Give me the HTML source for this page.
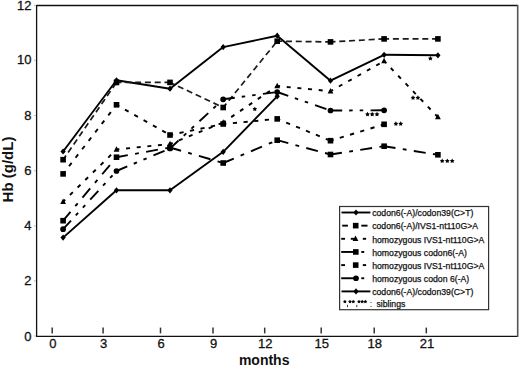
<!DOCTYPE html><html><head><meta charset="utf-8"><style>html,body{margin:0;padding:0;background:#fff;}svg{display:block;}text{font-family:"Liberation Sans",sans-serif;}</style></head><body>
<svg width="520" height="366" viewBox="0 0 520 366">
<rect width="520" height="366" fill="#fff"/>
<path d="M36.6 5.5 H518 M36.6 5 V336.5 M36 336.4 H518" stroke="#111" stroke-width="1.3" fill="none"/>
<path d="M517.7 5 V337" stroke="#555" stroke-width="1.6" fill="none"/>
<text x="31.4" y="341.4" font-size="13" text-anchor="end" fill="#111" stroke="#111" stroke-width="0.3">0</text>
<path d="M34 336.0 H35.6" stroke="#bbb" stroke-width="1.2"/>
<text x="31.4" y="284.9" font-size="13" text-anchor="end" fill="#111" stroke="#111" stroke-width="0.3">2</text>
<path d="M34 280.9 H35.6" stroke="#bbb" stroke-width="1.2"/>
<text x="31.4" y="230.0" font-size="13" text-anchor="end" fill="#111" stroke="#111" stroke-width="0.3">4</text>
<path d="M34 225.8 H35.6" stroke="#bbb" stroke-width="1.2"/>
<text x="31.4" y="175.2" font-size="13" text-anchor="end" fill="#111" stroke="#111" stroke-width="0.3">6</text>
<path d="M34 170.6 H35.6" stroke="#bbb" stroke-width="1.2"/>
<text x="31.4" y="119.7" font-size="13" text-anchor="end" fill="#111" stroke="#111" stroke-width="0.3">8</text>
<path d="M34 115.5 H35.6" stroke="#bbb" stroke-width="1.2"/>
<text x="31.4" y="64.0" font-size="13" text-anchor="end" fill="#111" stroke="#111" stroke-width="0.3">10</text>
<path d="M34 60.4 H35.6" stroke="#bbb" stroke-width="1.2"/>
<text x="31.4" y="10.1" font-size="13" text-anchor="end" fill="#111" stroke="#111" stroke-width="0.3">12</text>
<path d="M34 5.3 H35.6" stroke="#bbb" stroke-width="1.2"/>
<path d="M52.2 327.6 V333.4" stroke="#333" stroke-width="1.5"/>
<text x="52.8" y="348.2" font-size="13" text-anchor="middle" fill="#111" stroke="#111" stroke-width="0.3">0</text>
<path d="M103.1 327.6 V333.4" stroke="#333" stroke-width="1.5"/>
<text x="103.7" y="348.2" font-size="13" text-anchor="middle" fill="#111" stroke="#111" stroke-width="0.3">3</text>
<path d="M160.5 327.6 V333.4" stroke="#333" stroke-width="1.5"/>
<text x="161.1" y="348.2" font-size="13" text-anchor="middle" fill="#111" stroke="#111" stroke-width="0.3">6</text>
<path d="M213.0 327.6 V333.4" stroke="#333" stroke-width="1.5"/>
<text x="213.6" y="348.2" font-size="13" text-anchor="middle" fill="#111" stroke="#111" stroke-width="0.3">9</text>
<path d="M264.7 327.6 V333.4" stroke="#333" stroke-width="1.5"/>
<text x="265.3" y="348.2" font-size="13" text-anchor="middle" fill="#111" stroke="#111" stroke-width="0.3">12</text>
<path d="M321.2 327.6 V333.4" stroke="#333" stroke-width="1.5"/>
<text x="321.8" y="348.2" font-size="13" text-anchor="middle" fill="#111" stroke="#111" stroke-width="0.3">15</text>
<path d="M374.2 327.6 V333.4" stroke="#333" stroke-width="1.5"/>
<text x="374.8" y="348.2" font-size="13" text-anchor="middle" fill="#111" stroke="#111" stroke-width="0.3">18</text>
<path d="M426.3 327.6 V333.4" stroke="#333" stroke-width="1.5"/>
<text x="426.9" y="348.2" font-size="13" text-anchor="middle" fill="#111" stroke="#111" stroke-width="0.3">21</text>
<text x="264.2" y="365" font-size="14" font-weight="bold" text-anchor="middle" fill="#111">months</text>
<text transform="translate(13.2,169.5) rotate(-90)" font-size="15" font-weight="bold" text-anchor="middle" fill="#111">Hb (g/dL)</text>
<line x1="63.1" y1="151.5" x2="116.5" y2="80.3" stroke="#000" stroke-width="1.9"/>
<line x1="116.5" y1="80.3" x2="170.0" y2="88.7" stroke="#000" stroke-width="1.9"/>
<line x1="170.0" y1="88.7" x2="223.2" y2="47.1" stroke="#000" stroke-width="1.9"/>
<line x1="223.2" y1="47.1" x2="277.2" y2="35.7" stroke="#000" stroke-width="1.9"/>
<line x1="277.2" y1="35.7" x2="330.5" y2="80.7" stroke="#000" stroke-width="1.9"/>
<line x1="330.5" y1="80.7" x2="384.1" y2="54.8" stroke="#000" stroke-width="1.9"/>
<line x1="384.1" y1="54.8" x2="437.9" y2="55.3" stroke="#000" stroke-width="1.9"/>
<line x1="63.1" y1="159.7" x2="116.5" y2="82.5" stroke="#1a1a1a" stroke-width="1.7" stroke-dasharray="6 3.8" stroke-dashoffset="1"/>
<line x1="116.5" y1="82.5" x2="170.0" y2="82.4" stroke="#1a1a1a" stroke-width="1.7" stroke-dasharray="6 3.8" stroke-dashoffset="1"/>
<line x1="170.0" y1="82.4" x2="223.2" y2="107.5" stroke="#1a1a1a" stroke-width="1.7" stroke-dasharray="6 3.8" stroke-dashoffset="1"/>
<line x1="223.2" y1="107.5" x2="277.2" y2="41.2" stroke="#1a1a1a" stroke-width="1.7" stroke-dasharray="6 3.8" stroke-dashoffset="1"/>
<line x1="277.2" y1="41.2" x2="330.5" y2="41.9" stroke="#1a1a1a" stroke-width="1.7" stroke-dasharray="6 3.8" stroke-dashoffset="1"/>
<line x1="330.5" y1="41.9" x2="384.1" y2="38.9" stroke="#1a1a1a" stroke-width="1.7" stroke-dasharray="6 3.8" stroke-dashoffset="1"/>
<line x1="384.1" y1="38.9" x2="437.9" y2="38.9" stroke="#1a1a1a" stroke-width="1.7" stroke-dasharray="6 3.8" stroke-dashoffset="1"/>
<line x1="63.1" y1="201.7" x2="116.5" y2="149.5" stroke="#000" stroke-width="1.9" stroke-dasharray="4 6.7" stroke-dashoffset="1.1"/>
<line x1="116.5" y1="149.5" x2="170.0" y2="144.0" stroke="#000" stroke-width="1.9" stroke-dasharray="4 6.7" stroke-dashoffset="1.1"/>
<line x1="170.0" y1="144.0" x2="223.2" y2="122.5" stroke="#000" stroke-width="1.9" stroke-dasharray="4 6.7" stroke-dashoffset="1.1"/>
<line x1="223.2" y1="122.5" x2="277.2" y2="86.0" stroke="#000" stroke-width="1.9" stroke-dasharray="4 6.7" stroke-dashoffset="1.1"/>
<line x1="277.2" y1="86.0" x2="330.5" y2="91.2" stroke="#000" stroke-width="1.9" stroke-dasharray="4 6.7" stroke-dashoffset="1.1"/>
<line x1="330.5" y1="91.2" x2="384.1" y2="61.1" stroke="#000" stroke-width="1.9" stroke-dasharray="4 6.7" stroke-dashoffset="1.1"/>
<line x1="384.1" y1="61.1" x2="437.9" y2="117.1" stroke="#000" stroke-width="1.9" stroke-dasharray="4 6.7" stroke-dashoffset="1.1"/>
<line x1="63.1" y1="220.7" x2="116.5" y2="157.2" stroke="#000" stroke-width="1.9" stroke-dasharray="12 7.4 3.8 7.4" stroke-dashoffset="0.5"/>
<line x1="116.5" y1="157.2" x2="170.0" y2="147.5" stroke="#000" stroke-width="1.9" stroke-dasharray="12 7.4 3.8 7.4" stroke-dashoffset="0.5"/>
<line x1="170.0" y1="147.5" x2="223.2" y2="163.0" stroke="#000" stroke-width="1.9" stroke-dasharray="12 7.4 3.8 7.4" stroke-dashoffset="0.5"/>
<line x1="223.2" y1="163.0" x2="277.2" y2="140.2" stroke="#000" stroke-width="1.9" stroke-dasharray="12 7.4 3.8 7.4" stroke-dashoffset="0.5"/>
<line x1="277.2" y1="140.2" x2="330.5" y2="154.5" stroke="#000" stroke-width="1.9" stroke-dasharray="12 7.4 3.8 7.4" stroke-dashoffset="0.5"/>
<line x1="330.5" y1="154.5" x2="384.1" y2="146.2" stroke="#000" stroke-width="1.9" stroke-dasharray="12 7.4 3.8 7.4" stroke-dashoffset="0.5"/>
<line x1="384.1" y1="146.2" x2="437.9" y2="154.8" stroke="#000" stroke-width="1.9" stroke-dasharray="12 7.4 3.8 7.4" stroke-dashoffset="0.5"/>
<line x1="63.1" y1="173.9" x2="116.5" y2="104.8" stroke="#000" stroke-width="1.9" stroke-dasharray="4.2 6.5" stroke-dashoffset="1.0"/>
<line x1="116.5" y1="104.8" x2="170.0" y2="135.0" stroke="#000" stroke-width="1.9" stroke-dasharray="4.2 6.5" stroke-dashoffset="1.0"/>
<line x1="170.0" y1="135.0" x2="223.2" y2="124.0" stroke="#000" stroke-width="1.9" stroke-dasharray="4.2 6.5" stroke-dashoffset="1.0"/>
<line x1="223.2" y1="124.0" x2="277.2" y2="118.9" stroke="#000" stroke-width="1.9" stroke-dasharray="4.2 6.5" stroke-dashoffset="1.0"/>
<line x1="277.2" y1="118.9" x2="330.5" y2="140.7" stroke="#000" stroke-width="1.9" stroke-dasharray="4.2 6.5" stroke-dashoffset="1.0"/>
<line x1="330.5" y1="140.7" x2="384.1" y2="124.3" stroke="#000" stroke-width="1.9" stroke-dasharray="4.2 6.5" stroke-dashoffset="1.0"/>
<line x1="63.1" y1="229.2" x2="116.5" y2="171.0" stroke="#000" stroke-width="1.9" stroke-dasharray="12 7 3.5 7 3.5 7.4" stroke-dashoffset="0.3"/>
<line x1="116.5" y1="171.0" x2="170.0" y2="148.5" stroke="#000" stroke-width="1.9" stroke-dasharray="12 7 3.5 7 3.5 7.4" stroke-dashoffset="0.3"/>
<line x1="170.0" y1="148.5" x2="223.2" y2="99.3" stroke="#000" stroke-width="1.9" stroke-dasharray="12 7 3.5 7 3.5 7.4" stroke-dashoffset="0.3"/>
<line x1="223.2" y1="99.3" x2="277.2" y2="92.0" stroke="#000" stroke-width="1.9" stroke-dasharray="12 7 3.5 7 3.5 7.4" stroke-dashoffset="0.3"/>
<line x1="277.2" y1="92.0" x2="330.5" y2="110.5" stroke="#000" stroke-width="1.9" stroke-dasharray="12 7 3.5 7 3.5 7.4" stroke-dashoffset="0.3"/>
<line x1="330.5" y1="110.5" x2="384.1" y2="110.3" stroke="#000" stroke-width="1.9" stroke-dasharray="12 7 3.5 7 3.5 7.4" stroke-dashoffset="0.3"/>
<line x1="63.1" y1="237.6" x2="116.5" y2="190.3" stroke="#000" stroke-width="1.9"/>
<line x1="116.5" y1="190.3" x2="170.0" y2="190.3" stroke="#000" stroke-width="1.9"/>
<line x1="170.0" y1="190.3" x2="223.2" y2="151.8" stroke="#000" stroke-width="1.9"/>
<line x1="223.2" y1="151.8" x2="277.2" y2="96.3" stroke="#000" stroke-width="1.9"/>
<polygon points="63.10,234.50 65.73,237.60 63.10,240.70 60.47,237.60" fill="#000"/>
<polygon points="116.50,187.20 119.14,190.30 116.50,193.40 113.86,190.30" fill="#000"/>
<polygon points="170.00,187.20 172.63,190.30 170.00,193.40 167.37,190.30" fill="#000"/>
<polygon points="223.20,148.70 225.83,151.80 223.20,154.90 220.56,151.80" fill="#000"/>
<polygon points="277.20,93.20 279.83,96.30 277.20,99.40 274.56,96.30" fill="#000"/>
<circle cx="63.10" cy="229.20" r="2.85" fill="#000"/>
<circle cx="116.50" cy="171.00" r="2.85" fill="#000"/>
<circle cx="170.00" cy="148.50" r="2.85" fill="#000"/>
<circle cx="223.20" cy="99.30" r="2.85" fill="#000"/>
<circle cx="277.20" cy="92.00" r="2.85" fill="#000"/>
<circle cx="330.50" cy="110.50" r="2.85" fill="#000"/>
<circle cx="384.10" cy="110.30" r="2.85" fill="#000"/>
<rect x="60.30" y="217.90" width="5.60" height="5.60" fill="#000"/>
<rect x="113.70" y="154.40" width="5.60" height="5.60" fill="#000"/>
<rect x="167.20" y="144.70" width="5.60" height="5.60" fill="#000"/>
<rect x="220.40" y="160.20" width="5.60" height="5.60" fill="#000"/>
<rect x="274.40" y="137.40" width="5.60" height="5.60" fill="#000"/>
<rect x="327.70" y="151.70" width="5.60" height="5.60" fill="#000"/>
<rect x="381.30" y="143.40" width="5.60" height="5.60" fill="#000"/>
<rect x="435.10" y="152.00" width="5.60" height="5.60" fill="#000"/>
<rect x="60.30" y="171.10" width="5.60" height="5.60" fill="#000"/>
<rect x="113.70" y="102.00" width="5.60" height="5.60" fill="#000"/>
<rect x="167.20" y="132.20" width="5.60" height="5.60" fill="#000"/>
<rect x="220.40" y="121.20" width="5.60" height="5.60" fill="#000"/>
<rect x="274.40" y="116.10" width="5.60" height="5.60" fill="#000"/>
<rect x="327.70" y="137.90" width="5.60" height="5.60" fill="#000"/>
<rect x="381.30" y="121.50" width="5.60" height="5.60" fill="#000"/>
<rect x="60.30" y="156.90" width="5.60" height="5.60" fill="#000"/>
<rect x="113.70" y="79.70" width="5.60" height="5.60" fill="#000"/>
<rect x="167.20" y="79.60" width="5.60" height="5.60" fill="#000"/>
<rect x="220.40" y="104.70" width="5.60" height="5.60" fill="#000"/>
<rect x="274.40" y="38.40" width="5.60" height="5.60" fill="#000"/>
<rect x="327.70" y="39.10" width="5.60" height="5.60" fill="#000"/>
<rect x="381.30" y="36.10" width="5.60" height="5.60" fill="#000"/>
<rect x="435.10" y="36.10" width="5.60" height="5.60" fill="#000"/>
<polygon points="63.10,148.40 65.73,151.50 63.10,154.60 60.47,151.50" fill="#000"/>
<polygon points="116.50,77.20 119.14,80.30 116.50,83.40 113.86,80.30" fill="#000"/>
<polygon points="170.00,85.60 172.63,88.70 170.00,91.80 167.37,88.70" fill="#000"/>
<polygon points="223.20,44.00 225.83,47.10 223.20,50.20 220.56,47.10" fill="#000"/>
<polygon points="277.20,32.60 279.83,35.70 277.20,38.80 274.56,35.70" fill="#000"/>
<polygon points="330.50,77.60 333.13,80.70 330.50,83.80 327.87,80.70" fill="#000"/>
<polygon points="384.10,51.70 386.74,54.80 384.10,57.90 381.47,54.80" fill="#000"/>
<polygon points="437.90,52.20 440.53,55.30 437.90,58.40 435.26,55.30" fill="#000"/>
<polygon points="63.10,198.40 66.00,203.88 60.20,203.88" fill="#000"/>
<polygon points="116.50,146.20 119.40,151.68 113.60,151.68" fill="#000"/>
<polygon points="170.00,140.70 172.90,146.18 167.10,146.18" fill="#000"/>
<polygon points="223.20,119.20 226.10,124.67 220.30,124.67" fill="#000"/>
<polygon points="277.20,82.70 280.10,88.17 274.30,88.17" fill="#000"/>
<polygon points="330.50,87.90 333.40,93.38 327.60,93.38" fill="#000"/>
<polygon points="384.10,57.80 387.00,63.27 381.20,63.27" fill="#000"/>
<polygon points="437.90,113.80 440.80,119.27 435.00,119.27" fill="#000"/>
<polygon points="254.80,106.65 255.59,108.01 257.13,108.34 256.08,109.52 256.24,111.08 254.80,110.45 253.36,111.08 253.52,109.52 252.47,108.34 254.01,108.01" fill="#000"/>
<polygon points="430.40,56.05 431.19,57.41 432.73,57.74 431.68,58.92 431.84,60.48 430.40,59.85 428.96,60.48 429.12,58.92 428.07,57.74 429.61,57.41" fill="#000"/>
<polygon points="413.00,95.35 413.79,96.71 415.33,97.04 414.28,98.22 414.44,99.78 413.00,99.15 411.56,99.78 411.72,98.22 410.67,97.04 412.21,96.71" fill="#000"/>
<polygon points="417.90,95.35 418.69,96.71 420.23,97.04 419.18,98.22 419.34,99.78 417.90,99.15 416.46,99.78 416.62,98.22 415.57,97.04 417.11,96.71" fill="#000"/>
<polygon points="367.50,111.85 368.29,113.21 369.83,113.54 368.78,114.72 368.94,116.28 367.50,115.65 366.06,116.28 366.22,114.72 365.17,113.54 366.71,113.21" fill="#000"/>
<polygon points="372.20,111.85 372.99,113.21 374.53,113.54 373.48,114.72 373.64,116.28 372.20,115.65 370.76,116.28 370.92,114.72 369.87,113.54 371.41,113.21" fill="#000"/>
<polygon points="377.00,111.85 377.79,113.21 379.33,113.54 378.28,114.72 378.44,116.28 377.00,115.65 375.56,116.28 375.72,114.72 374.67,113.54 376.21,113.21" fill="#000"/>
<polygon points="395.90,121.35 396.69,122.71 398.23,123.04 397.18,124.22 397.34,125.78 395.90,125.15 394.46,125.78 394.62,124.22 393.57,123.04 395.11,122.71" fill="#000"/>
<polygon points="400.70,121.35 401.49,122.71 403.03,123.04 401.98,124.22 402.14,125.78 400.70,125.15 399.26,125.78 399.42,124.22 398.37,123.04 399.91,122.71" fill="#000"/>
<polygon points="442.20,158.55 442.99,159.91 444.53,160.24 443.48,161.42 443.64,162.98 442.20,162.35 440.76,162.98 440.92,161.42 439.87,160.24 441.41,159.91" fill="#000"/>
<polygon points="447.30,158.55 448.09,159.91 449.63,160.24 448.58,161.42 448.74,162.98 447.30,162.35 445.86,162.98 446.02,161.42 444.97,160.24 446.51,159.91" fill="#000"/>
<polygon points="452.20,158.55 452.99,159.91 454.53,160.24 453.48,161.42 453.64,162.98 452.20,162.35 450.76,162.98 450.92,161.42 449.87,160.24 451.41,159.91" fill="#000"/>
<rect x="339.6" y="206.5" width="149" height="103.2" fill="#fff" stroke="#333" stroke-width="1.2"/>
<text x="372.2" y="216.40" font-size="8.7" fill="#111" stroke="#111" stroke-width="0.25">codon6(-A)/codon39(C&gt;T)</text>
<text x="372.2" y="229.45" font-size="8.7" fill="#111" stroke="#111" stroke-width="0.25">codon6(-A)/IVS1-nt110G&gt;A</text>
<text x="372.2" y="242.50" font-size="8.7" fill="#111" stroke="#111" stroke-width="0.25">homozygous IVS1-nt110G&gt;A</text>
<text x="372.2" y="255.55" font-size="8.7" fill="#111" stroke="#111" stroke-width="0.25">homozygous codon6(-A)</text>
<text x="372.2" y="268.60" font-size="8.7" fill="#111" stroke="#111" stroke-width="0.25">homozygous IVS1-nt110G&gt;A</text>
<text x="372.2" y="281.65" font-size="8.7" fill="#111" stroke="#111" stroke-width="0.25">homozygous codon 6(-A)</text>
<text x="372.2" y="294.70" font-size="8.7" fill="#111" stroke="#111" stroke-width="0.25">codon6(-A)/codon39(C&gt;T)</text>
<path d="M341.5 212.50 H370.4" stroke="#000" stroke-width="1.9"/>
<polygon points="356.00,209.40 358.63,212.50 356.00,215.60 353.37,212.50" fill="#000"/>
<path d="M342.2 225.65 H347.9" stroke="#000" stroke-width="1.9"/>
<rect x="352.90" y="222.85" width="5.60" height="5.60" fill="#000"/>
<path d="M361.3 225.65 H367.5" stroke="#000" stroke-width="1.9"/>
<path d="M341.2 238.80 H345" stroke="#000" stroke-width="1.9"/>
<path d="M350.8 238.80 H354" stroke="#000" stroke-width="1.9"/>
<polygon points="355.50,235.50 358.40,240.98 352.60,240.98" fill="#000"/>
<path d="M362.8 238.80 H366.1" stroke="#000" stroke-width="1.9"/>
<path d="M341.2 251.95 H354" stroke="#000" stroke-width="1.9"/>
<rect x="353.00" y="249.15" width="5.60" height="5.60" fill="#000"/>
<path d="M361.3 251.95 H364.2" stroke="#000" stroke-width="1.9"/>
<path d="M341.2 265.10 H345" stroke="#000" stroke-width="1.9"/>
<rect x="352.90" y="262.30" width="5.60" height="5.60" fill="#000"/>
<path d="M362.8 265.10 H366.1" stroke="#000" stroke-width="1.9"/>
<path d="M341.2 278.25 H354" stroke="#000" stroke-width="1.9"/>
<circle cx="356.00" cy="278.25" r="2.85" fill="#000"/>
<path d="M361.3 278.25 H364.2" stroke="#000" stroke-width="1.9"/>
<path d="M341.5 291.40 H370.4" stroke="#000" stroke-width="1.9"/>
<polygon points="356.00,288.30 358.63,291.40 356.00,294.50 353.37,291.40" fill="#000"/>
<polygon points="344.90,299.70 345.55,300.81 346.80,301.08 345.95,302.04 346.08,303.32 344.90,302.80 343.72,303.32 343.85,302.04 343.00,301.08 344.25,300.81" fill="#000"/>
<polygon points="350.00,299.70 350.65,300.81 351.90,301.08 351.05,302.04 351.18,303.32 350.00,302.80 348.82,303.32 348.95,302.04 348.10,301.08 349.35,300.81" fill="#000"/>
<polygon points="353.30,299.70 353.95,300.81 355.20,301.08 354.35,302.04 354.48,303.32 353.30,302.80 352.12,303.32 352.25,302.04 351.40,301.08 352.65,300.81" fill="#000"/>
<polygon points="359.00,299.70 359.65,300.81 360.90,301.08 360.05,302.04 360.18,303.32 359.00,302.80 357.82,303.32 357.95,302.04 357.10,301.08 358.35,300.81" fill="#000"/>
<polygon points="362.20,299.70 362.85,300.81 364.10,301.08 363.25,302.04 363.38,303.32 362.20,302.80 361.02,303.32 361.15,302.04 360.30,301.08 361.55,300.81" fill="#000"/>
<polygon points="365.40,299.70 366.05,300.81 367.30,301.08 366.45,302.04 366.58,303.32 365.40,302.80 364.22,303.32 364.35,302.04 363.50,301.08 364.75,300.81" fill="#000"/>
<path d="M347.5 304.8 V307.2" stroke="#222" stroke-width="0.9"/>
<path d="M356.8 304.8 V307.2" stroke="#222" stroke-width="0.9"/>
<text x="369.8" y="306.6" font-size="8.7" fill="#111">:</text>
<text x="376.4" y="306.6" font-size="8.7" fill="#111" stroke="#111" stroke-width="0.25">siblings</text>
</svg></body></html>
